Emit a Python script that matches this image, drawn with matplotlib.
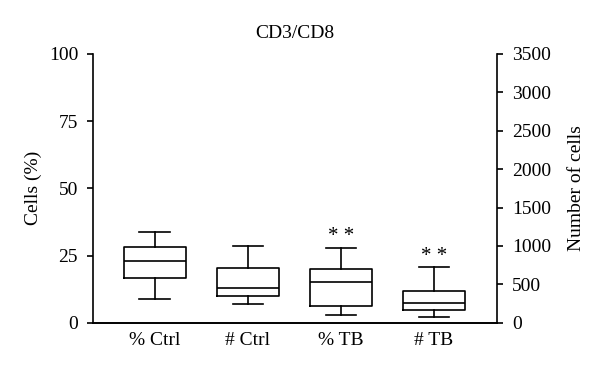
import matplotlib.pyplot as plt

plt.rcParams['font.family'] = ['Liberation Serif', 'DejaVu Serif']

# box statistics
categories = ["% Ctrl", "# Ctrl", "% TB", "# TB"]
axis_of = ["left", "right", "left", "right"]
whislo = [8.9, 239, 3.0, 74]
q1 = [16.5, 343, 6.2, 161]
med = [23.0, 456, 15.0, 260]
q3 = [28.3, 708, 19.9, 417]
whishi = [33.9, 1003, 27.9, 725]
signif = ["", "", "* *", "* *"]

fig = plt.figure(figsize=(6, 3.72), dpi=100)
ax = fig.add_axes([0.1545, 0.1325, 0.6745, 0.7225])
ax2 = ax.twinx()

lw = 1.2
fs = 14
props = dict(color="black", linewidth=lw)
for i, cat in enumerate(categories):
    stats = [dict(med=med[i], q1=q1[i], q3=q3[i], whislo=whislo[i],
                  whishi=whishi[i], fliers=[])]
    target = ax if axis_of[i] == "left" else ax2
    target.bxp(stats, positions=[i + 1], widths=0.66, showfliers=False,
               boxprops=props, medianprops=props, whiskerprops=props,
               capprops=props, capwidths=0.33, manage_ticks=False)
    if signif[i]:
        target.annotate(signif[i], xy=(i + 1, whishi[i]), xytext=(0, 1),
                        textcoords="offset points", ha="center", va="bottom",
                        fontsize=15)

ax.set_xlim(0.333, 4.68)
ax.set_ylim(0, 100)
ax2.set_ylim(0, 3500)
ax.set_yticks([0, 25, 50, 75, 100])
ax2.set_yticks(range(0, 3501, 500))
ax.set_xticks(range(1, 5))
ax.set_xticklabels(categories)

for a in (ax, ax2):
    a.spines["top"].set_visible(False)
    for s in a.spines.values():
        s.set_linewidth(lw)
    a.tick_params(width=lw, length=4.5, pad=6, labelsize=fs)
ax2.spines["left"].set_visible(False)
ax.spines["right"].set_visible(False)
ax.tick_params(axis="x", length=0, pad=7)

ax.set_ylabel("Cells (%)", fontsize=fs)
ax.yaxis.set_label_coords(-0.125, 0.5)
ax2.set_ylabel("Number of cells", fontsize=fs)
ax2.yaxis.set_label_coords(1.175, 0.5)
ax.text(0.5, 1.075, "CD3/CD8", transform=ax.transAxes, ha="center",
        va="center", fontsize=fs)

fig.savefig("out.png", dpi=100)
